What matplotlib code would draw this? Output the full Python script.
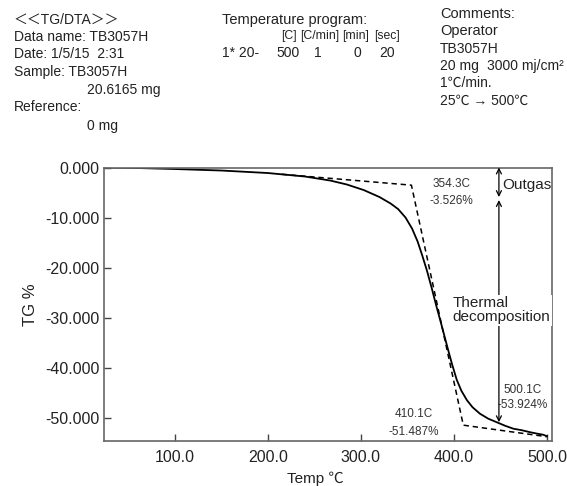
import matplotlib
matplotlib.use('Agg')
import matplotlib.pyplot as plt

plt.rcParams['font.family'] = ['Liberation Sans', 'Noto Sans CJK JP', 'DejaVu Sans']

# TG curve (temperature in C, weight change in %)
temp = [25, 60, 100, 150, 200, 240, 267, 285, 303, 320, 332, 340, 348, 355, 361,
        366, 371, 376, 381, 386, 390, 394, 398, 403, 408, 414, 420, 428, 437, 446,
        455, 464, 473, 482, 490, 496, 500.1]
tg = [0.0, -0.1, -0.3, -0.6, -1.1, -1.8, -2.6, -3.4, -4.5, -5.9, -7.2, -8.3, -10.0,
      -12.2, -14.8, -17.6, -20.6, -24.0, -27.6, -31.0, -33.8, -36.6, -39.3, -42.4,
      -44.6, -46.5, -47.9, -49.2, -50.2, -50.9, -51.6, -52.2, -52.5, -52.9, -53.2,
      -53.4, -53.7]

# tangent construction (dashed)
tan_t = [215, 354.3, 410.1, 500.1]
tan_v = [-1.35, -3.526, -51.487, -53.8]

xticks = [100, 200, 300, 400, 500]
yticks = [0, -10, -20, -30, -40, -50]

fig = plt.figure(figsize=(5.67, 4.86), dpi=100)
ax = fig.add_axes([0.1834, 0.0916, 0.79, 0.5637])

ax.plot(temp, tg, color='black', lw=1.3)
ax.plot(tan_t, tan_v, color='black', lw=1.1, ls=(0, (3.5, 2.5)))

ax.set_xlim(23.7, 505.4)
ax.set_ylim(-54.75, 0)
ax.set_xticks(xticks)
ax.set_xticklabels([f'{v:.1f}' for v in xticks])
ax.set_yticks(yticks)
ax.set_yticklabels([f'{v:.3f}' for v in yticks])
ax.tick_params(direction='in', length=5, width=1, colors='#444444',
               labelcolor='#222222', labelsize=11.5)
ax.tick_params(axis='x', pad=6)
for s in ax.spines.values():
    s.set_color('#666666')
    s.set_linewidth(1.2)

ax.set_ylabel('TG %', fontsize=12, color='#222222')
ax.yaxis.set_label_coords(-0.147, 0.5)
ax.set_xlabel('Temp ℃', fontsize=11, color='#222222')
ax.xaxis.set_label_coords(0.471, -0.111)

# point labels
small = dict(fontsize=8.5, color='#333333', ha='center', va='center')
ax.text(397.8, -3.2, '354.3C', **small)
ax.text(397.8, -6.6, '-3.526%', **small)
ax.text(357, -49.2, '410.1C', **small)
ax.text(357, -52.8, '-51.487%', **small)
ax.text(474, -44.5, '500.1C', **small)
ax.text(474, -47.5, '-53.924%', **small)

# range arrows
arr_x = 448.4
ap = dict(arrowstyle='<->', lw=0.9, color='black', shrinkA=0, shrinkB=0, mutation_scale=9)
ax.annotate('', xy=(arr_x, 0), xytext=(arr_x, -5.9), arrowprops=ap)
ax.annotate('', xy=(arr_x, -6.5), xytext=(arr_x, -50.9), arrowprops=ap)
ax.text(452.5, -3.5, 'Outgas', fontsize=11, color='#222222', va='center', ha='left')
ax.text(398.6, -28.5, 'Thermal\ndecomposition', fontsize=11, color='#222222',
        va='center', ha='left', linespacing=1.0,
        bbox=dict(facecolor='white', edgecolor='none', pad=1))

# header block
hs = dict(fontsize=10, color='#222222', va='center', ha='left')
H = 486.0
def ht(x, y, s, **kw):
    d = dict(hs)
    d.update(kw)
    fig.text(x / 567.0, 1 - y / H, s, **d)

ht(14, 20, '＜＜TG/DTA＞＞')
ht(14, 37, 'Data name: TB3057H')
ht(14, 54, 'Date: 1/5/15  2:31')
ht(14, 72, 'Sample: TB3057H')
ht(87, 90, '20.6165 mg')
ht(14, 107, 'Reference:')
ht(87, 126, '0 mg')

ht(222, 20, 'Temperature program:', fontsize=10.5)
for cx, s in [(289, '[C]'), (320, '[C/min]'), (356, '[min]'), (387, '[sec]')]:
    ht(cx, 36, s, ha='center', fontsize=8.8)
ht(222, 53, '1* 20-')
for cx, s in [(288, '500'), (318, '1'), (357, '0'), (387, '20')]:
    ht(cx, 53, s, ha='center')

ht(440, 14, 'Comments:', fontsize=10.5)
ht(440, 31, 'Operator', fontsize=10.5)
ht(440, 49, 'TB3057H')
ht(440, 66, '20 mg')
ht(487, 66, '3000 mj/cm²')
ht(440, 83, '1℃/min.')
ht(440, 101, '25℃ → 500℃')

fig.savefig('out.png', dpi=100)
